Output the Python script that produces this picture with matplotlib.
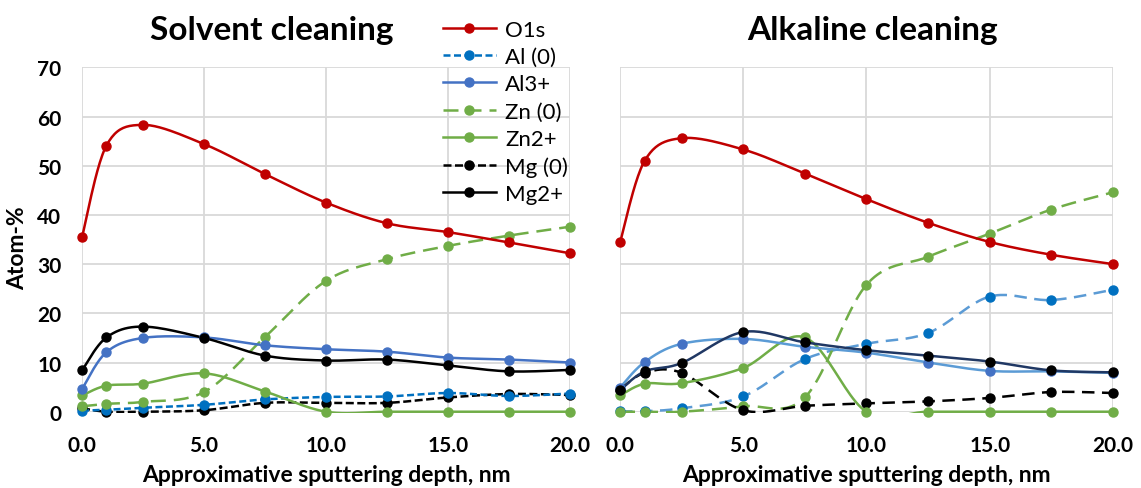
import numpy as np
import matplotlib.pyplot as plt
from matplotlib.lines import Line2D
from matplotlib.transforms import Bbox, TransformedBbox

# sputtering depth (nm)
depth = [0, 1, 2.5, 5, 7.5, 10, 12.5, 15, 17.5, 20]

# solvent cleaned sample, atom-%
solv_o1s = [35.5, 54.1, 58.3, 54.4, 48.3, 42.5, 38.3, 36.5, 34.4, 32.2]
solv_al0 = [0.2, 0.4, 0.8, 1.4, 2.5, 3.0, 3.1, 3.8, 3.2, 3.7]
solv_al3 = [4.6, 12.1, 15.0, 15.1, 13.5, 12.7, 12.2, 11.0, 10.6, 10.0]
solv_zn0 = [1.1, 1.6, 2.0, 4.0, 15.2, 26.6, 31.0, 33.7, 35.8, 37.6]
solv_zn2 = [3.3, 5.3, 5.7, 7.8, 4.1, 0.0, 0.0, 0.0, 0.0, 0.0]
solv_mg0 = [0.7, 0.0, 0.0, 0.3, 1.8, 1.8, 1.8, 2.9, 3.6, 3.4]
solv_mg2 = [8.4, 15.1, 17.3, 15.0, 11.4, 10.4, 10.6, 9.4, 8.2, 8.5]

# alkaline cleaned sample, atom-%
alk_o1s = [34.4, 51.0, 55.6, 53.3, 48.4, 43.2, 38.4, 34.5, 31.9, 30.0]
alk_al0 = [0.1, 0.1, 0.7, 3.1, 10.7, 13.8, 16.0, 23.4, 22.7, 24.8]
alk_al3 = [4.9, 10.1, 13.8, 14.8, 13.2, 12.0, 10.0, 8.3, 8.2, 7.9]
alk_zn0 = [0.0, 0.0, 0.0, 1.1, 2.9, 25.8, 31.5, 36.2, 41.1, 44.6]
alk_zn2 = [3.3, 5.7, 5.8, 8.9, 15.1, 0.0, 0.0, 0.0, 0.0, 0.0]
alk_mg0 = [4.5, 7.9, 7.9, 0.3, 1.2, 1.7, 2.1, 2.8, 4.0, 3.8]
alk_mg2 = [4.4, 8.2, 9.9, 16.2, 14.1, 12.5, 11.4, 10.2, 8.4, 8.0]

labels = ["O1s", "Al (0)", "Al3+", "Zn (0)", "Zn2+", "Mg (0)", "Mg2+"]

RED = "#C00000"
BLUE = "#0070C0"
BLUE2 = "#4472C4"
LBLUE = "#5B9BD5"
GREEN = "#70AD47"
NAVY = "#203864"

SHORT = (2.8, 1.4)
LONG = (6, 3.2)
MID = (3.2, 1.4)
WIDE = (5, 3)


def smooth(x, y, n=24):
    # cubic bezier through the points, like a spreadsheet "smoothed line"
    p = np.column_stack([x, y]).astype(float)
    out = [p[:1]]
    t = np.linspace(0, 1, n)[1:, None]
    for i in range(len(p) - 1):
        p0 = p[i - 1] if i > 0 else p[i]
        p1, p2 = p[i], p[i + 1]
        p3 = p[i + 2] if i + 2 < len(p) else p[i + 1]
        c1 = p1 + (p2 - p0) / 6
        c2 = p2 - (p3 - p1) / 6
        seg = ((1 - t) ** 3 * p1 + 3 * (1 - t) ** 2 * t * c1
               + 3 * (1 - t) * t ** 2 * c2 + t ** 3 * p2)
        out.append(seg)
    s = np.vstack(out)
    return s[:, 0], s[:, 1]


def series(ax, y, line_c, mark_c, dash=None, z=3):
    sx, sy = smooth(depth, y)
    ln, = ax.plot(sx, sy, color=line_c, lw=1.8, zorder=z,
                  solid_capstyle="round")
    # clip a little below zero so lines lying on the axis stay full width
    ln.set_clip_box(TransformedBbox(Bbox([[-1, -0.3], [21, 71]]), ax.transData))
    if dash:
        ln.set_dashes(dash)
    ax.plot(depth, y, "o", color=mark_c, ms=6.5, zorder=z + 0.5, clip_on=False)


plt.rcParams["font.family"] = ["Lato", "DejaVu Sans"]

fig = plt.figure(figsize=(11.41, 4.89), dpi=100)
ax1 = fig.add_axes([0.0719, 0.156, 0.4277, 0.7043])
ax2 = fig.add_axes([0.5434, 0.156, 0.432, 0.7043])

series(ax1, solv_mg0, "black", "black", MID)
series(ax1, solv_al0, BLUE, BLUE, SHORT)
series(ax1, solv_zn0, GREEN, GREEN, LONG)
series(ax1, solv_zn2, GREEN, GREEN)
series(ax1, solv_al3, BLUE2, BLUE2)
series(ax1, solv_mg2, "black", "black")
series(ax1, solv_o1s, RED, RED)

series(ax2, alk_al0, LBLUE, BLUE, WIDE)
series(ax2, alk_zn0, GREEN, GREEN, LONG)
series(ax2, alk_mg0, "black", "black", WIDE)
series(ax2, alk_zn2, GREEN, GREEN)
series(ax2, alk_al3, LBLUE, BLUE2)
series(ax2, alk_mg2, NAVY, "black")
series(ax2, alk_o1s, RED, RED)

for ax in (ax1, ax2):
    ax.set_xlim(0, 20)
    ax.set_ylim(0, 70)
    ax.set_xticks([0, 5, 10, 15, 20])
    ax.set_xticklabels(["%.1f" % v for v in [0, 5, 10, 15, 20]])
    ax.set_yticks(range(0, 71, 10))
    ax.grid(True, color="#D9D9D9", lw=1.3)
    ax.set_axisbelow(True)
    for s in ax.spines.values():
        s.set_visible(False)
    ax.tick_params(length=0, labelsize=15, pad=15)
    ax.tick_params(axis="x", pad=17)
    for lab in ax.get_xticklabels() + ax.get_yticklabels():
        lab.set_fontweight("bold")
    ax.set_xlabel("Approximative sputtering depth, nm", fontsize=16.5,
                  fontweight="bold", labelpad=6)

ax2.tick_params(labelleft=False)
ax1.set_ylabel("Atom-%", fontsize=16.5, fontweight="bold")
ax1.yaxis.set_label_coords(-0.111, 0.478)

fig.text(0.238, 0.938, "Solvent cleaning", fontsize=24, fontweight="bold",
         ha="center", va="center")
fig.text(0.765, 0.938, "Alkaline cleaning", fontsize=24, fontweight="bold",
         ha="center", va="center")

styles = [(RED, None), (BLUE, SHORT), (BLUE2, None), (GREEN, LONG),
          (GREEN, None), ("black", MID), ("black", None)]
handles = []
for c, d in styles:
    h = Line2D([], [], color=c, lw=1.8, marker="o", ms=6.5)
    if d:
        h.set_dashes(d)
    handles.append(h)

fig.legend(handles, labels, loc="upper left", bbox_to_anchor=(0.388, 0.958),
           frameon=False, fontsize=16, handlelength=2.4, handletextpad=0.4,
           labelspacing=0.33, borderaxespad=0, borderpad=0)

fig.savefig("out.png", dpi=100)
